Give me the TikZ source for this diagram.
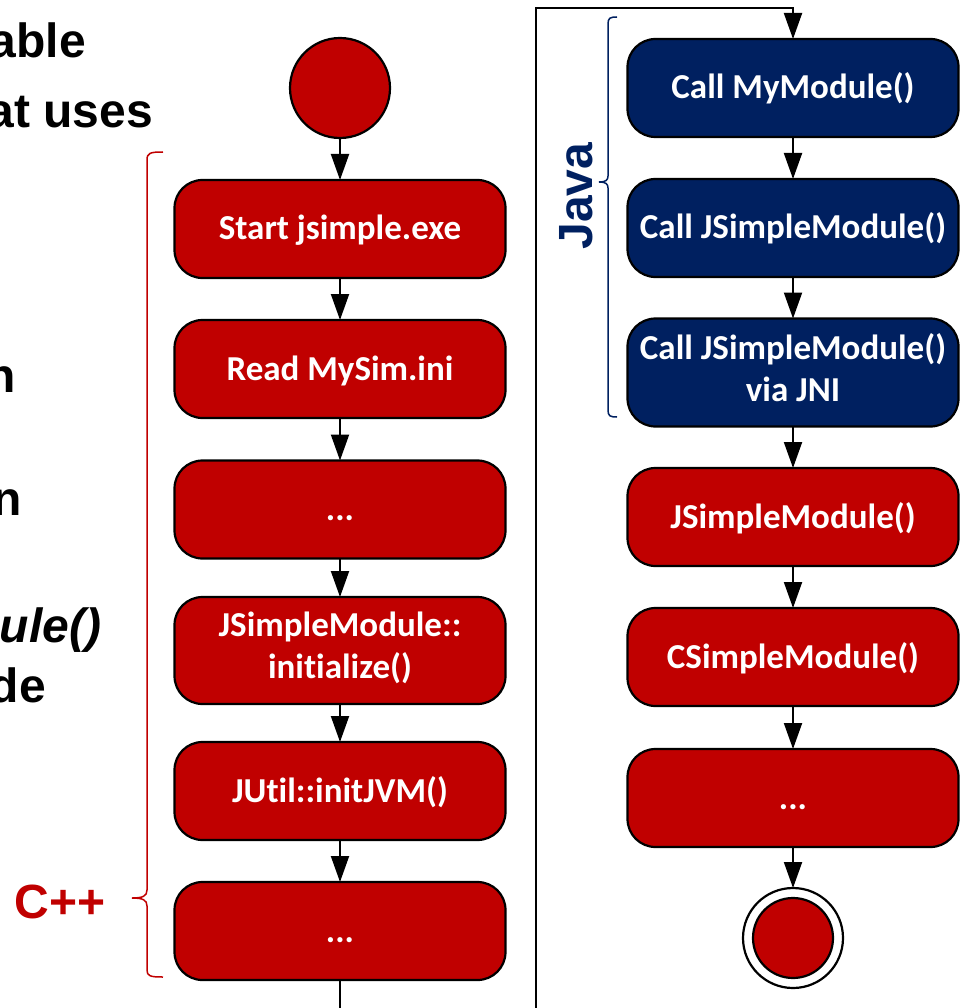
\documentclass[tikz,border=0pt]{standalone}
\usepackage{fontspec}
\setmainfont{Carlito}[Ligatures=NoCommon]
\newfontfamily\arialfont{Liberation Sans}
\usetikzlibrary{arrows.meta}
\definecolor{cppred}{RGB}{192,0,0}
\definecolor{javablue}{RGB}{0,32,96}
\newcommand\boxstrut{\rule[-10pt]{0pt}{42pt}}
\begin{document}
\begin{tikzpicture}[x=1pt,y=-1pt,
        every node/.style={inner sep=0pt,outer sep=0pt},
        act/.style={draw=black,line width=2.2pt,rounded corners=28pt,minimum width=331pt,minimum height=98pt,
            align=center,text=white,font=\fontsize{35}{42}\selectfont\bfseries,
            execute at begin node=\boxstrut,execute at end node=\boxstrut},
        cact/.style={act,fill=cppred},
        jact/.style={act,fill=javablue},
        flow/.style={line width=2pt,-{Triangle[width=18pt,length=26pt]}},
        side/.style={font=\arialfont\bfseries\fontsize{48}{54}\selectfont},
        brace/.style={line width=1.5pt}]
        \useasboundingbox (0,0) rectangle (968,1008);
        % cut-off slide text
        \node[side,anchor=base east] (t1) at (86,58) {able};
        \node[side,anchor=base east] (t2) at (153,128) {at uses};
        \node[side,anchor=base east] (t3) at (16,392) {n};
        \node[side,anchor=base east] (t4) at (22,515) {n};
        \node[side,anchor=base east] (t5) at (101,642) {\itshape ule()};
        \node[side,anchor=base east] (t6) at (46,702) {de};
        % C++ part
        \node[circle,draw,line width=2.2pt,fill=cppred,minimum size=100pt] (start) at (340,88) {};
        \node[cact] (startexe) at (340,229) {Start jsimple.exe};
        \node[cact] (readini) at (340,369) {Read MySim.ini};
        \node[cact] (dotsa) at (340,509.5) {...};
        \node[cact,minimum height=107pt] (initmod) at (340,650.5) {JSimpleModule::\\initialize()};
        \node[cact] (initjvm) at (340,791) {JUtil::initJVM()};
        \node[cact] (dotsb) at (340,931) {...};
        \draw[flow] (start) -- (startexe);
        \draw[flow] (startexe) -- (readini);
        \draw[flow] (readini) -- (dotsa);
        \draw[flow] (dotsa) -- (initmod);
        \draw[flow] (initmod) -- (initjvm);
        \draw[flow] (initjvm) -- (dotsb);
        \coordinate (lout) at (340,1008);
        \draw[line width=2pt] (dotsb) -- (lout);
        % Java part
        \node[jact] (callmy) at (793,88) {Call MyModule()};
        \node[jact] (calljs) at (793,228) {Call JSimpleModule()};
        \node[jact,minimum height=108pt] (calljni) at (793,372.5) {Call JSimpleModule()\\via JNI};
        \node[cact] (jsmod) at (793,517) {JSimpleModule()};
        \node[cact] (csmod) at (793,657) {CSimpleModule()};
        \node[cact] (dotsc) at (793,798) {...};
        \node[circle,draw,line width=2.2pt,fill=white,minimum size=100pt] (final) at (793,938) {};
        \node[circle,draw,line width=2.2pt,fill=cppred,minimum size=80pt] (finalin) at (final.center) {};
        \coordinate (rin) at (536,1008);
        \coordinate (rtop) at (536,8);
        \draw[flow] (rin) -- (rtop) -| (callmy);
        \draw[flow] (callmy) -- (calljs);
        \draw[flow] (calljs) -- (calljni);
        \draw[flow] (calljni) -- (jsmod);
        \draw[flow] (jsmod) -- (csmod);
        \draw[flow] (csmod) -- (dotsc);
        \draw[flow] (dotsc) -- (final);
        % braces
        \draw[brace,cppred] (163,152) .. controls (150,152) and (147,153) .. (147,160) -- (147,890)
            .. controls (147,896) and (143,898) .. (132,898) .. controls (143,898) and (147,900) .. (147,906)
            -- (147,970) .. controls (147,976) and (150,977) .. (163,977);
        \node[side,text=cppred] (cpp) at (60,902) {C++};
        \draw[brace,javablue] (617,17) .. controls (610,17) and (608,18) .. (608,24) -- (608,176)
            .. controls (608,180) and (606,182) .. (599,182) .. controls (606,182) and (608,184) .. (608,188)
            -- (608,410) .. controls (608,416) and (610,417) .. (617,417);
        \node[side,text=javablue,rotate=90] (java) at (576,196) {Java};
    \end{tikzpicture}
\end{document}
